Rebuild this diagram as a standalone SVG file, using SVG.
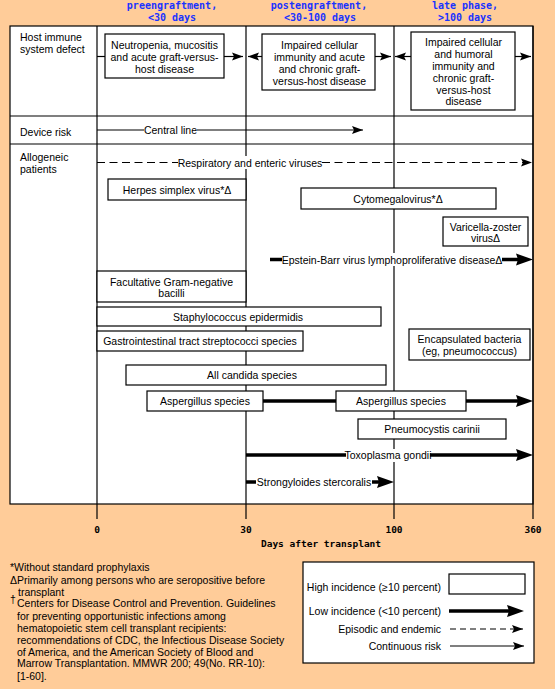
<svg xmlns="http://www.w3.org/2000/svg" width="555" height="689" viewBox="0 0 555 689">
<style>
text{font-family:"Liberation Sans",Arial,sans-serif;font-size:10.5px;fill:#000}
.hd{font-family:"DejaVu Sans Mono",monospace;font-weight:bold;font-size:10px;fill:#1a33ff;text-anchor:middle}
.ax{font-family:"DejaVu Sans Mono",monospace;font-weight:bold;font-size:9.5px;text-anchor:middle}
.c{text-anchor:middle}
.e{text-anchor:end}
.box{fill:#fff;stroke:#000;stroke-width:1.2}
.grid{stroke:#000;stroke-width:1.2;fill:none}
.thin{stroke:#000;stroke-width:1.2;fill:none}
.dash{stroke:#000;stroke-width:1.2;fill:none;stroke-dasharray:8 4.5}
.thick{stroke:#000;stroke-width:3.6;fill:none}
.gap{fill:#fff}
</style>
<defs>
<marker id="ah" markerUnits="userSpaceOnUse" markerWidth="12" markerHeight="8" refX="11" refY="4" orient="auto" overflow="visible">
<path d="M0,0 L11,4 L0,8 L2,4 z" fill="#000"/>
</marker>
<marker id="ahT" markerUnits="userSpaceOnUse" markerWidth="18" markerHeight="12" refX="4" refY="6" orient="auto" overflow="visible">
<path d="M0,0 L17,6 L0,12 L2,6 z" fill="#000"/>
</marker>
</defs>
<rect width="555" height="689" fill="#ffcc99"/>

<g id="header">
<text class="hd" x="172" y="9">preengraftment,</text>
<text class="hd" x="172" y="21">&lt;30 days</text>
<text class="hd" x="319" y="9">postengraftment,</text>
<text class="hd" x="320" y="21">&lt;30-100 days</text>
<text class="hd" x="465" y="9">late phase,</text>
<text class="hd" x="465" y="21">&gt;100 days</text>
</g>

<g id="table">
<rect x="10" y="26" width="523" height="478" fill="#fff" stroke="#000" stroke-width="1.2"/>
<line class="grid" x1="10" y1="116" x2="533" y2="116"/>
<line class="grid" x1="10" y1="144" x2="533" y2="144"/>
<line class="grid" x1="97" y1="26" x2="97" y2="519"/>
<line class="grid" x1="246" y1="26" x2="246" y2="519"/>
<line class="grid" x1="394" y1="26" x2="394" y2="519"/>
<line class="grid" x1="533" y1="26" x2="533" y2="519"/>
<text x="20" y="40.5">Host immune</text>
<text x="20" y="52.5">system defect</text>
<text x="20" y="136">Device risk</text>
<text x="20" y="160.5">Allogeneic</text>
<text x="20" y="172.5">patients</text>
</g>

<g id="axis">
<text class="ax" x="97" y="533">0</text>
<text class="ax" x="246" y="533">30</text>
<text class="ax" x="394" y="533">100</text>
<text class="ax" x="533" y="533">360</text>
<text class="ax" x="321" y="547">Days after transplant</text>
</g>

<g id="connectors">
<line class="thin" x1="97" y1="56.5" x2="105" y2="56.5"/>
<line class="thin" x1="224" y1="56.5" x2="243" y2="56.5" marker-end="url(#ah)"/>
<line class="thin" x1="262" y1="56.5" x2="248" y2="56.5" marker-end="url(#ah)"/>
<line class="thin" x1="375" y1="56.5" x2="391" y2="56.5" marker-end="url(#ah)"/>
<line class="thin" x1="411" y1="56.5" x2="395" y2="56.5" marker-end="url(#ah)"/>
<line class="thin" x1="515" y1="56.5" x2="531" y2="56.5" marker-end="url(#ah)"/>
<line class="thin" x1="97" y1="130" x2="363" y2="130" marker-end="url(#ah)"/>
<line class="dash" x1="97" y1="162.5" x2="532" y2="162.5" marker-end="url(#ah)"/>
<line class="thick" x1="270" y1="259.5" x2="520" y2="259.5" marker-end="url(#ahT)"/>
<line class="thick" x1="263" y1="401" x2="336" y2="401"/>
<line class="thick" x1="466" y1="401" x2="520" y2="401" marker-end="url(#ahT)"/>
<line class="thick" x1="246" y1="455" x2="520" y2="455" marker-end="url(#ahT)"/>
<line class="thick" x1="246" y1="482" x2="381" y2="482" marker-end="url(#ahT)"/>
</g>

<g id="central-line">
<rect class="gap" x="144" y="124" width="53" height="12"/>
<text class="c" x="170.5" y="134">Central line</text>
</g>
<g id="respiratory">
<rect class="gap" x="178" y="156" width="144" height="13"/>
<text class="c" x="250" y="166.5">Respiratory and enteric viruses</text>
</g>
<g id="ebv">
<rect class="gap" x="282" y="253" width="220" height="13"/>
<text class="c" x="392" y="263.5">Epstein-Barr virus lymphoproliferative diseaseΔ</text>
</g>
<g id="toxoplasma">
<rect class="gap" x="346" y="449" width="84" height="13"/>
<text class="c" x="388" y="459">Toxoplasma gondii</text>
</g>
<g id="strongyloides">
<rect class="gap" x="256" y="476" width="116" height="13"/>
<text class="c" x="314" y="486">Strongyloides stercoralis</text>
</g>

<g id="neutropenia">
<rect class="box" x="105" y="34" width="119" height="44"/>
<text class="c" x="164.5" y="48.5">Neutropenia, mucositis</text>
<text class="c" x="164.5" y="60.5">and acute graft-versus-</text>
<text class="c" x="164.5" y="72.5">host disease</text>
</g>
<g id="impaired-cellular">
<rect class="box" x="262" y="34" width="113" height="56"/>
<text class="c" x="319.5" y="48.5">Impaired cellular</text>
<text class="c" x="319.5" y="60.5">immunity and acute</text>
<text class="c" x="319.5" y="72.5">and chronic graft-</text>
<text class="c" x="319.5" y="84.5">versus-host disease</text>
</g>
<g id="impaired-humoral">
<rect class="box" x="411" y="32" width="104" height="78"/>
<text class="c" x="463.5" y="45.5">Impaired cellular</text>
<text class="c" x="463.5" y="57.5">and humoral</text>
<text class="c" x="463.5" y="69.5">immunity and</text>
<text class="c" x="463.5" y="81.5">chronic graft-</text>
<text class="c" x="463.5" y="93.5">versus-host</text>
<text class="c" x="463.5" y="105">disease</text>
</g>
<g id="herpes">
<rect class="box" x="108" y="179" width="138" height="21"/>
<text class="c" x="177" y="193.5">Herpes simplex virus*Δ</text>
</g>
<g id="cmv">
<rect class="box" x="301" y="188" width="195" height="21"/>
<text class="c" x="398" y="202.5">Cytomegalovirus*Δ</text>
</g>
<g id="varicella">
<rect class="box" x="443" y="217" width="85" height="29"/>
<text class="c" x="485.5" y="230.5">Varicella-zoster</text>
<text class="c" x="485.5" y="242">virusΔ</text>
</g>
<g id="gram-negative">
<rect class="box" x="97" y="271" width="149" height="31"/>
<text class="c" x="171.5" y="285.5">Facultative Gram-negative</text>
<text class="c" x="171.5" y="297">bacilli</text>
</g>
<g id="staph">
<rect class="box" x="97" y="307" width="284" height="19"/>
<text class="c" x="238" y="320.5">Staphylococcus epidermidis</text>
</g>
<g id="gi-strep">
<rect class="box" x="97" y="331" width="206" height="20"/>
<text class="c" x="200" y="345">Gastrointestinal tract streptococci species</text>
</g>
<g id="encapsulated">
<rect class="box" x="409" y="329" width="121" height="31"/>
<text class="c" x="469.5" y="342.5">Encapsulated bacteria</text>
<text class="c" x="469.5" y="354.5">(eg, pneumococcus)</text>
</g>
<g id="candida">
<rect class="box" x="126" y="365" width="260" height="20"/>
<text class="c" x="252" y="379">All candida species</text>
</g>
<g id="aspergillus-1">
<rect class="box" x="147" y="391" width="116" height="20"/>
<text class="c" x="205" y="405">Aspergillus species</text>
</g>
<g id="aspergillus-2">
<rect class="box" x="336" y="391" width="130" height="20"/>
<text class="c" x="401" y="405">Aspergillus species</text>
</g>
<g id="pneumocystis">
<rect class="box" x="358" y="419" width="148" height="20"/>
<text class="c" x="432" y="433">Pneumocystis carinii</text>
</g>

<g id="footnotes">
<text x="10" y="571">*Without standard prophylaxis</text>
<text x="10" y="583.5">ΔPrimarily among persons who are seropositive before</text>
<text x="18" y="595.5">transplant</text>
<text x="10" y="603" font-size="7.5">†</text>
<text x="17" y="607">Centers for Disease Control and Prevention. Guidelines</text>
<text x="17" y="619.5">for preventing opportunistic infections among</text>
<text x="17" y="631.5">hematopoietic stem cell transplant recipients:</text>
<text x="17" y="643.5">recommendations of CDC, the Infectious Disease Society</text>
<text x="17" y="655.5">of America, and the American Society of Blood and</text>
<text x="17" y="667">Marrow Transplantation. MMWR 200; 49(No. RR-10):</text>
<text x="17" y="679.5">[1-60].</text>
</g>

<g id="legend">
<rect x="303" y="562" width="231" height="101" fill="#fff" stroke="#000" stroke-width="1.2"/>
<text class="e" x="441" y="591">High incidence (≥10 percent)</text>
<rect class="box" x="449" y="574" width="76" height="20"/>
<text class="e" x="441" y="615">Low incidence (&lt;10 percent)</text>
<line class="thick" x1="449" y1="611" x2="511" y2="611" marker-end="url(#ahT)"/>
<text class="e" x="441" y="633">Episodic and endemic</text>
<line class="thin" x1="450" y1="629" x2="523" y2="629" stroke-dasharray="6 4" marker-end="url(#ah)"/>
<text class="e" x="441" y="650">Continuous risk</text>
<line class="thin" x1="450" y1="646" x2="524" y2="646" marker-end="url(#ah)"/>
</g>
</svg>
